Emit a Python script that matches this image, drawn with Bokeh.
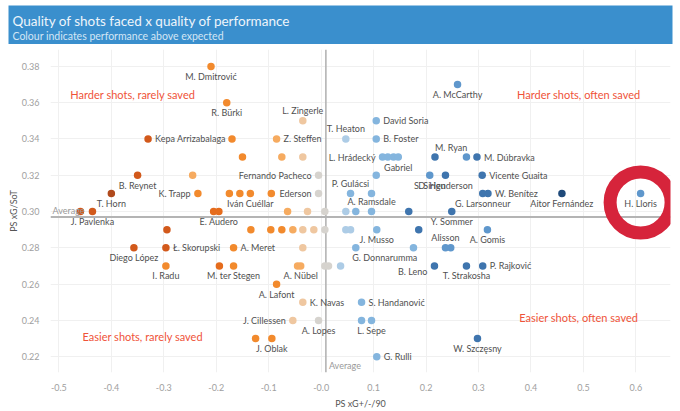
from bokeh.plotting import figure
from bokeh.models import (ColumnDataSource, Span, Label, FixedTicker, PrintfTickFormatter,
                          LinearColorMapper, Range1d)
from bokeh.layouts import column
from bokeh.embed import file_html
from bokeh.resources import INLINE
from bokeh.core.properties import value
from bokeh.transform import transform

# ---------------- data ----------------
TITLE = "Quality of shots faced x quality of performance"
SUBTITLE = "Colour indicates performance above expected"
X_LABEL = "PS xG+/-/90"
Y_LABEL = "PS xG/SoT"

names = [
    "M. Dmitrović",
    "A. McCarthy",
    "R. Bürki",
    "L. Zingerle", "David Soria",
    "Kepa Arrizabalaga", "", "Z. Steffen", "T. Heaton", "B. Foster",
    "", "", "", "L. Hrádecký", "", "", "Gabriel", "M. Ryan", "", "M. Dúbravka",
    "B. Reynet", "", "Fernando Pacheco", "", "S. Sirigu", "D. Henderson", "Vicente Guaita",
    "T. Horn", "K. Trapp", "", "", "Iván Cuéllar", "", "Ederson", "P. Gulácsi", "",
    "G. Larsonneur", "W. Benítez", "Aitor Fernández", "H. Lloris",
    "", "J. Pavlenka", "", "E. Audero", "", "", "", "", "", "A. Ramsdale", "", "Y. Sommer",
    "", "", "", "", "", "", "", "", "", "", "J. Musso", "", "A. Gomis",
    "Diego López", "Ł. Skorupski", "A. Meret", "", "G. Donnarumma", "", "Alisson", "",
    "I. Radu", "", "M. ter Stegen", "", "A. Nübel", "", "", "", "B. Leno", "T. Strakosha", "P. Rajković",
    "A. Lafont",
    "K. Navas", "S. Handanović",
    "J. Cillessen", "A. Lopes", "", "L. Sepe",
    "", "J. Oblak", "W. Szczęsny",
    "G. Rulli",
]

ps_xg_diff = [
    -0.21,
    0.26,
    -0.18,
    -0.035, 0.105,
    -0.33, -0.17, -0.085, 0.047, 0.105,
    -0.15, -0.075, -0.035, 0.117, 0.127, 0.138, 0.147, 0.217, 0.277, 0.297,
    -0.35, -0.245, -0.005, 0.105, 0.207, 0.237, 0.307,
    -0.40, -0.235, -0.175, -0.155, -0.135, -0.095, -0.005, 0.056, 0.096,
    0.308, 0.318, 0.459, 0.609,
    -0.459, -0.436, -0.205, -0.195, -0.064, -0.026, 0.007, 0.047, 0.066, 0.096, 0.167, 0.249,
    -0.294, -0.134, -0.096, -0.075, -0.054, -0.035, -0.014, 0.007, 0.047, 0.056, 0.106, 0.186, 0.317,
    -0.357, -0.296, -0.167, -0.035, 0.066, 0.176, 0.237, 0.247,
    -0.296, -0.194, -0.167, -0.045, -0.039, 0.007, 0.014, 0.037, 0.216, 0.277, 0.308,
    -0.085,
    -0.035, 0.077,
    -0.054, -0.005, 0.077, 0.096,
    -0.125, -0.094, 0.298,
    0.106,
]

ps_xg_sot = [
    0.38,
    0.37,
    0.36,
    0.35, 0.35,
    0.34, 0.34, 0.34, 0.34, 0.34,
    0.33, 0.33, 0.33, 0.33, 0.33, 0.33, 0.33, 0.33, 0.33, 0.33,
    0.32, 0.32, 0.32, 0.32, 0.32, 0.32, 0.32,
    0.31, 0.31, 0.31, 0.31, 0.31, 0.31, 0.31, 0.31, 0.31,
    0.31, 0.31, 0.31, 0.31,
    0.30, 0.30, 0.30, 0.30, 0.30, 0.30, 0.30, 0.30, 0.30, 0.30, 0.30, 0.30,
    0.29, 0.29, 0.29, 0.29, 0.29, 0.29, 0.29, 0.29, 0.29, 0.29, 0.29, 0.29, 0.29,
    0.28, 0.28, 0.28, 0.28, 0.28, 0.28, 0.28, 0.28,
    0.27, 0.27, 0.27, 0.27, 0.27, 0.27, 0.27, 0.27, 0.27, 0.27, 0.27,
    0.26,
    0.25, 0.25,
    0.24, 0.24, 0.24, 0.24,
    0.23, 0.23, 0.23,
    0.22,
]

# performance above expected (colour level, orange = below, blue = above)
perf = [
    -3,
    3,
    -3,
    -1, 2,
    -5, -3, -2, 1, 2,
    -3, -2, -1, 2, 2, 2, 2, 4, 3, 4,
    -5, -2, 0, 2, 3, 4, 4,
    -6, -3, -3, -3, -3, -3, 0, 2, 2,
    4, 4, 5, 3,
    -5, -5, -4, -4, -2, -1, 0, 1, 2, 2, 4, 4,
    -5, -3, -3, -3, -2, -1, -1, 0, 1, 1, 2, 4, 3,
    -5, -5, -3, -1, 2, 2, 3, 3,
    -3, -4, -3, -2, -2, 0, 0, 1, 4, 4, 4,
    -3,
    -1, 2,
    -1, 0, 2, 2,
    -3, -3, 4,
    2,
]

avg_x = 0.009
avg_y = 0.297

x_ticks = [-0.5, -0.4, -0.3, -0.2, -0.1, 0.0, 0.1, 0.2, 0.3, 0.4, 0.5, 0.6]
y_ticks = [0.22, 0.24, 0.26, 0.28, 0.30, 0.32, 0.34, 0.36, 0.38]

quadrants = [
    ("Harder shots, rarely saved", -0.359, 0.3646),
    ("Harder shots, often saved", 0.491, 0.3646),
    ("Easier shots, rarely saved", -0.340, 0.2311),
    ("Easier shots, often saved", 0.491, 0.2415),
]

# ---------------- styles ----------------
FONT = "Lato"
BLUE = "#3a8fcd"
palette = ["#b04a1c", "#d2591b", "#e56c1d", "#f28a2d", "#f6ab60", "#efc7a0",
           "#d6d3ce", "#adcce6", "#84b5de", "#5f97cc", "#3f75ae", "#1f4a7a"]

# label placement: (align, baseline, dx, dy) ; dy positive = down
PLACE = {
    "right": ("left", "middle", 7, 0),
    "left": ("right", "middle", -7, 0),
    "below": ("center", "middle", 0, 10),
    "above": ("center", "middle", 0, -10),
}
label_place = {
    "Kepa Arrizabalaga": "right", "Z. Steffen": "right", "B. Foster": "right", "David Soria": "right",
    "M. Dúbravka": "right", "Vicente Guaita": "right", "W. Benítez": "right", "Ł. Skorupski": "right",
    "A. Meret": "right", "P. Rajković": "right", "K. Navas": "right", "S. Handanović": "right",
    "G. Rulli": "right",
    "L. Hrádecký": "left", "Fernando Pacheco": "left", "K. Trapp": "left", "Ederson": "left",
    "J. Cillessen": "left",
    "L. Zingerle": "above", "T. Heaton": "above", "P. Gulácsi": "above", "A. Ramsdale": "above",
    "Alisson": "above",
}
label_special = {
    "M. Ryan": ("left", "middle", 0, -10),
    "B. Leno": ("right", "middle", -7, 6),
    "G. Donnarumma": ("center", "middle", 29, 10),
}


def no_align(fig):
    if "frame_align" in fig.properties():
        fig.frame_align = False


# ---------------- banner ----------------
banner = figure(width=680, height=44, x_range=Range1d(0, 664), y_range=Range1d(0, 39),
                toolbar_location=None, output_backend="svg",
                min_border_left=8, min_border_right=8, min_border_top=5, min_border_bottom=0,
                x_axis_type=None, y_axis_type=None)
no_align(banner)
banner.background_fill_color = BLUE
banner.border_fill_color = "white"
banner.outline_line_color = None
banner.add_layout(Label(x=4, y=24, text=TITLE, text_font=FONT, text_font_size="13.5px",
                        text_color="#eef5fb", text_baseline="middle"))
banner.add_layout(Label(x=4, y=9, text=SUBTITLE, text_font=FONT, text_font_size="10.5px",
                        text_color="#d3e6f5", text_baseline="middle"))

# ---------------- main chart ----------------
p = figure(width=680, height=367, x_range=Range1d(-0.516, 0.666), y_range=Range1d(0.2113, 0.3893),
           toolbar_location=None, output_backend="svg",
           min_border_left=50, min_border_right=10, min_border_top=5, min_border_bottom=36)
no_align(p)
p.outline_line_color = None
p.background_fill_color = "white"

for ax in (p.xaxis[0], p.yaxis[0]):
    ax.axis_line_color = None
    ax.major_tick_line_color = None
    ax.minor_tick_line_color = None
    ax.major_label_text_font = FONT
    ax.major_label_text_font_size = "9px"
    ax.major_label_text_color = "#a0a0a0"
    ax.axis_label_text_font = FONT
    ax.axis_label_text_font_size = "9px"
    ax.axis_label_text_font_style = "normal"
    ax.axis_label_text_color = "#555555"
    ax.major_label_standoff = 5

p.xaxis.ticker = FixedTicker(ticks=x_ticks)
p.yaxis.ticker = FixedTicker(ticks=y_ticks)
p.xaxis.formatter = PrintfTickFormatter(format="%.1f")
p.yaxis.formatter = PrintfTickFormatter(format="%.2f")
p.xaxis.major_label_overrides = {0: "-0.0"}
p.xaxis.axis_label = X_LABEL
p.yaxis.axis_label = Y_LABEL
p.xaxis.axis_label_standoff = 4
p.yaxis.axis_label_standoff = 0

p.xgrid.grid_line_color = "#f0f0f0"
p.ygrid.grid_line_color = "#f0f0f0"

p.add_layout(Span(location=avg_x, dimension="height", line_color="#b4b4b4", line_width=1.6,
                  level="underlay"))
p.add_layout(Span(location=avg_y, dimension="width", line_color="#b4b4b4", line_width=2,
                  level="underlay"))

mapper = LinearColorMapper(palette=palette, low=-6.5, high=5.5)
src = ColumnDataSource(dict(x=ps_xg_diff, y=ps_xg_sot, name=names, perf=perf))
p.scatter("x", "y", source=src, size=7.5, fill_color=transform("perf", mapper), line_color=None)

# point labels grouped by placement
groups = {}
for n, xv, yv in zip(names, ps_xg_diff, ps_xg_sot):
    if not n:
        continue
    style = label_special.get(n, PLACE[label_place.get(n, "below")])
    g = groups.setdefault(style, dict(x=[], y=[], t=[]))
    g["x"].append(xv)
    g["y"].append(yv)
    g["t"].append(n)

for (align, baseline, dx, dy), g in groups.items():
    p.text(x=g["x"], y=g["y"], text=g["t"], text_align=align, text_baseline=baseline,
           x_offset=dx, y_offset=dy, text_font=value(FONT), text_font_size="9px",
           text_color="#505050")

for txt, qx, qy in quadrants:
    p.add_layout(Label(x=qx, y=qy, text=txt, text_align="center", text_baseline="middle",
                       text_font=FONT, text_font_size="11px", text_color="#ef5339"))

p.add_layout(Label(x=p.x_range.start, y=avg_y, x_offset=2, y_offset=1, text="Average",
                   text_baseline="bottom", text_font=FONT, text_font_size="9px",
                   text_color="#9a9a9a"))
p.add_layout(Label(x=avg_x, y=p.y_range.start, x_offset=3, y_offset=2, text="Average",
                   text_baseline="bottom", text_font=FONT, text_font_size="9px",
                   text_color="#9a9a9a"))

# highlight ring around H. Lloris
i = names.index("H. Lloris")
p.scatter(x=[ps_xg_diff[i]], y=[ps_xg_sot[i] - 0.005], size=61, fill_color=None,
          line_color="#d6243b", line_width=13)

layout = column(banner, p, spacing=0)
open("out.html", "w").write(file_html(layout, INLINE))
